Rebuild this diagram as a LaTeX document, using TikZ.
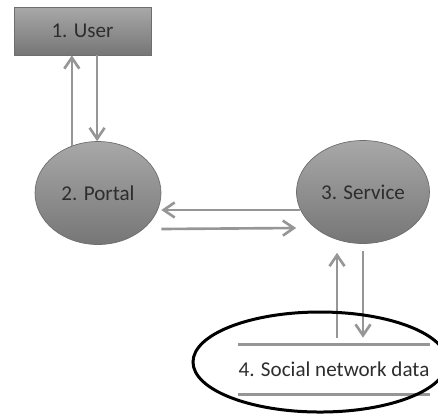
\documentclass[tikz,border=0pt]{standalone}
\usepackage{fontspec}
\setmainfont{Carlito}
\usetikzlibrary{arrows.meta,shapes.geometric}
\definecolor{shadetop}{RGB}{168,168,168}
\definecolor{shadebot}{RGB}{118,118,118}
\definecolor{rim}{RGB}{110,110,110}
\definecolor{flowgray}{RGB}{150,150,150}
\definecolor{txt}{RGB}{45,45,45}
\begin{document}
\begin{tikzpicture}[x=0.02cm, y=-0.02cm,
	every node/.style={font=\fontsize{12}{14}\selectfont, text=txt},
	shaded/.style={draw=rim, thin, top color=shadetop, bottom color=shadebot},
	flow/.style={draw=flowgray, line width=1.5pt, -{Straight Barb[length=2.2mm, width=3mm, line width=1.5pt]}}]
	
	\useasboundingbox (0,0) rectangle (438,417);
	\clip (0,0) rectangle (438,417);
	
	\node[shaded, rectangle, minimum width=2.74cm, minimum height=0.96cm] (1) at (82.5,31) {1. User};
	\node[shaded, ellipse, minimum width=2.52cm, minimum height=2.06cm, inner sep=0pt] (2) at (98,193) {2. Portal};
	\node[shaded, ellipse, minimum width=2.66cm, minimum height=2.06cm, inner sep=0pt] (3) at (363,192) {3. Service};
	\node[minimum width=3.76cm, minimum height=0.98cm, inner sep=0pt] (4) at (334,369.5) {4. Social network data};
	
	\draw[flowgray, line width=2pt] (4.north west) -- (4.north east);
	\draw[flowgray, line width=2pt] (4.south west) -- (4.south east);
	
	\path (2.119) edge[flow] (1.south -| 2.119);
	\path (1.south -| 2.91) edge[flow] (2.91);
	
	\path (3.196) edge[flow] (2.east |- 3.196);
	\path ([yshift=-0.72cm]2.east) edge[flow] ([yshift=-0.72cm]3.west);
	
	\path ([xshift=-0.52cm]3.south |- 4.north) edge[flow, shorten <=0.14cm, shorten >=0.18cm] ([xshift=-0.52cm]3.south);
	\path (3.south) edge[flow, shorten <=0.14cm, shorten >=0.14cm] (3.south |- 4.north);
	
	\draw[line width=0.06cm] (320,362) ellipse (127 and 50);
	
\end{tikzpicture}
\end{document}
